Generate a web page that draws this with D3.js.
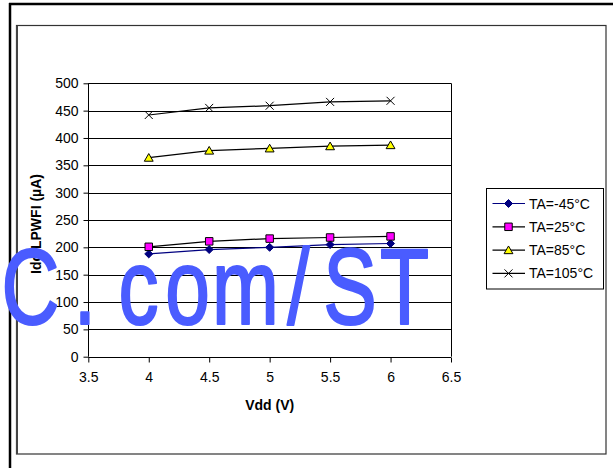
<!DOCTYPE html>
<html><head><meta charset="utf-8">
<script src="https://cdn.jsdelivr.net/npm/d3@7"></script>
<style>
html,body{margin:0;padding:0;background:#fff;}
svg{display:block;font-family:"Liberation Sans",Arial,sans-serif;}
</style></head>
<body>
<svg id="c" width="613" height="468"></svg>
<script>
const vdd = [4, 4.5, 5, 5.5, 6];
const seriesNames = ["TA=-45°C", "TA=25°C", "TA=85°C", "TA=105°C"];
const ta_m45 = [188, 196, 200, 205, 207];
const ta_25  = [201, 211, 216, 218, 220];
const ta_85  = [364, 377, 381, 385, 387];
const ta_105 = [442, 455, 459, 466, 468];
const xTicks = [3.5, 4, 4.5, 5, 5.5, 6, 6.5];
const yTicks = [0, 50, 100, 150, 200, 250, 300, 350, 400, 450, 500];
const xTitle = "Vdd (V)";
const yTitle = "Idd LPWFI (µA)";
const watermark = "C.com/ST";

const series = [
  {name: seriesNames[0], values: ta_m45, line: "#000080", fill: "#000080", stroke: "#000080", marker: "diamond"},
  {name: seriesNames[1], values: ta_25, line: "#000000", fill: "#FF00FF", stroke: "#000000", marker: "square"},
  {name: seriesNames[2], values: ta_85, line: "#000000", fill: "#FFFF00", stroke: "#000000", marker: "triangle"},
  {name: seriesNames[3], values: ta_105, line: "#000000", fill: "none", stroke: "#000000", marker: "x"}
];

const svg = d3.select("#c");
const x = d3.scaleLinear().domain([3.5, 6.5]).range([88.3, 451]);
const y = d3.scaleLinear().domain([0, 500]).range([356.7, 83.3]);

// outer frame lines
svg.append("line").attr("x1", 9).attr("x2", 613).attr("y1", 4).attr("y2", 4).attr("stroke", "#000").attr("stroke-width", 2.5);
svg.append("line").attr("x1", 10).attr("x2", 10).attr("y1", 3).attr("y2", 468).attr("stroke", "#000").attr("stroke-width", 2.5);
// inner chart frame
svg.append("rect").attr("x", 16.5).attr("y", 25.5).attr("width", 589.5).attr("height", 428.5)
  .attr("fill", "#fff").attr("stroke", "#333").attr("stroke-width", 1.2);
svg.append("line").attr("x1", 17).attr("x2", 17).attr("y1", 26).attr("y2", 454)
  .attr("stroke", "#444").attr("stroke-width", 2);

// gridlines
svg.append("g").selectAll("line").data(yTicks.filter(d => d > 0)).join("line")
  .attr("x1", x(3.5)).attr("x2", x(6.5))
  .attr("y1", d => Math.round(y(d)) + 0.5).attr("y2", d => Math.round(y(d)) + 0.5)
  .attr("stroke", "#000").attr("stroke-width", 1);
// plot border right
svg.append("line").attr("x1", Math.round(x(6.5)) + 0.5).attr("x2", Math.round(x(6.5)) + 0.5)
  .attr("y1", y(500)).attr("y2", y(0)).attr("stroke", "#000");

// axes
const xAxis = svg.append("g").attr("transform", `translate(0,${Math.round(y(0)) + 0.5})`)
  .call(d3.axisBottom(x).tickValues(xTicks).tickSize(5).tickPadding(10).tickFormat(d3.format("")));
const yAxis = svg.append("g").attr("transform", `translate(${Math.round(x(3.5)) + 0.5},0)`)
  .call(d3.axisLeft(y).tickValues(yTicks).tickSize(5).tickPadding(5).tickFormat(d3.format("d")));
[xAxis, yAxis].forEach(a => {
  a.select(".domain").attr("stroke", "#000").attr("stroke-width", 1);
  a.selectAll(".tick line").attr("stroke", "#000");
  a.selectAll(".tick text").attr("fill", "#000").attr("font-size", 14)
    .attr("font-family", "'Liberation Sans', Arial, sans-serif");
});
xAxis.selectAll(".domain").attr("d", `M${x(3.5)},0H${x(6.5)}`);
yAxis.selectAll(".domain").attr("d", `M0,${y(0)}V${y(500)}`);

// titles
svg.append("text").attr("x", (x(3.5) + x(6.5)) / 2).attr("y", 410)
  .attr("text-anchor", "middle").attr("font-size", 14).attr("font-weight", "bold").text(xTitle);
svg.append("text").attr("transform", "translate(41,224) rotate(-90)")
  .attr("text-anchor", "middle").attr("font-size", 14).attr("font-weight", "bold").text(yTitle);

// marker generator
function markerPath(type) {
  if (type === "diamond") return "M0,-4L4,0L0,4L-4,0Z";
  if (type === "square") return d3.symbol().type(d3.symbolSquare).size(56)();
  if (type === "triangle") return d3.symbol().type(d3.symbolTriangle).size(34)();
  return "M-4,-4L4,4M-4,4L4,-4";
}

const line = d3.line().x((d, i) => x(vdd[i])).y(d => y(d));
series.forEach(s => {
  svg.append("path").datum(s.values).attr("d", line)
    .attr("fill", "none").attr("stroke", s.line).attr("stroke-width", 1.2);
});
series.forEach(s => {
  svg.append("g").selectAll("path").data(s.values).join("path")
    .attr("transform", (d, i) => `translate(${x(vdd[i])},${y(d) + (s.marker === "triangle" ? 1 : 0)})`)
    .attr("d", markerPath(s.marker))
    .attr("fill", s.fill).attr("stroke", s.stroke).attr("stroke-width", 1);
});

// legend
const lg = svg.append("g");
lg.append("rect").attr("x", 486.5).attr("y", 188.5).attr("width", 117).attr("height", 100.5)
  .attr("fill", "#fff").attr("stroke", "#000").attr("stroke-width", 1);
series.forEach((s, i) => {
  const cy = 203.5 + i * 23.3;
  lg.append("line").attr("x1", 492.5).attr("x2", 525).attr("y1", cy).attr("y2", cy)
    .attr("stroke", s.line).attr("stroke-width", 1.2);
  lg.append("path").attr("transform", `translate(508.5,${cy + (s.marker === "triangle" ? 1 : 0)})`)
    .attr("d", markerPath(s.marker)).attr("fill", s.fill).attr("stroke", s.stroke);
  lg.append("text").attr("x", 529).attr("y", cy + 5).attr("font-size", 14).text(s.name);
});

// watermark
const sx = 0.75;
const wmCenters = [30.5, 85, 138.5, 187.5, 245.5, 298.5, 350, 404.5];
svg.append("text").attr("transform", `scale(${sx},1)`)
  .attr("x", wmCenters.map(c => c / sx).join(" "))
  .attr("y", 324).attr("text-anchor", "middle")
  .attr("font-size", 107).attr("fill", "#4A5CFF")
  .attr("stroke", "#4A5CFF").attr("stroke-width", 2.2).attr("stroke-linejoin", "round")
  .text(watermark);
</script>
</body></html>
